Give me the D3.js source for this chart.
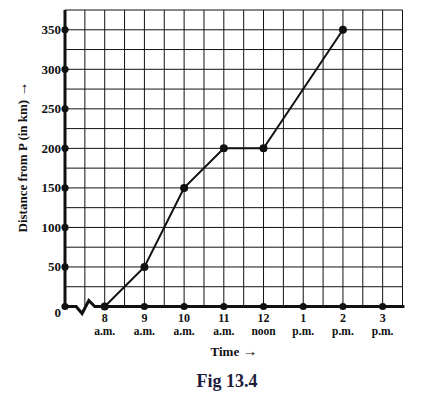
<!DOCTYPE html>
<html lang="en">
<head>
<meta charset="utf-8">
<title>Fig 13.4</title>
<script src="https://cdn.jsdelivr.net/npm/d3@7"></script>
<style>
body { margin: 0; background: #fff; }
svg text { font-family: "Liberation Serif", "Times New Roman", serif; font-weight: bold; fill: #111; }
.grid line { stroke: #111; stroke-width: 1; }
</style>
</head>
<body>
<div id="chart"></div>
<script>
// data
var hours = [8, 9, 10, 11, 12, 13, 14, 15];
var hourLabels = ["8", "9", "10", "11", "12", "1", "2", "3"];
var periodLabels = ["a.m.", "a.m.", "a.m.", "a.m.", "noon", "p.m.", "p.m.", "p.m."];
var tripTimes = [8, 9, 10, 11, 12, 14];
var tripDistances = [0, 50, 150, 200, 200, 350];
var distanceTicks = [0, 50, 100, 150, 200, 250, 300, 350];

var svg = d3.select("#chart").append("svg").attr("width", 431).attr("height", 398);

var x = d3.scaleLinear().domain([7, 15.5]).range([65, 402.5]);
var y = d3.scaleLinear().domain([0, 375]).range([306.5, 10]);

// grid
var grid = svg.append("g").attr("class", "grid");
grid.selectAll(".v").data(d3.range(7.5, 15.51, 0.5)).enter().append("line")
    .attr("x1", function(d) { return x(d); }).attr("x2", function(d) { return x(d); })
    .attr("y1", y(0)).attr("y2", y(375));
grid.selectAll(".h").data(d3.range(25, 376, 25)).enter().append("line")
    .attr("x1", x(7)).attr("x2", x(15.5))
    .attr("y1", function(d) { return y(d); }).attr("y2", function(d) { return y(d); });

// axes (thick)
svg.append("line").attr("x1", x(7)).attr("x2", x(7)).attr("y1", y(0) + 1).attr("y2", y(375))
    .attr("stroke", "#111").attr("stroke-width", 3);
// bottom axis with the break between origin and 8 a.m.
var brk = [[7, 0], [7.28, 0], [7.43, -7], [7.6, 6], [7.75, 0], [15.55, 0]];
svg.append("path")
    .attr("d", d3.line().x(function(d) { return x(d[0]); }).y(function(d) { return y(0) - d[1]; })(brk))
    .attr("fill", "none").attr("stroke", "#111").attr("stroke-width", 3);

// axis dots
svg.selectAll(".ydot").data(distanceTicks).enter().append("circle")
    .attr("cx", x(7)).attr("cy", function(d) { return y(d); }).attr("r", 3.6).attr("fill", "#111");
svg.selectAll(".xdot").data(hours).enter().append("circle")
    .attr("cx", function(d) { return x(d); }).attr("cy", y(0)).attr("r", 3.6).attr("fill", "#111");

// tick labels
svg.selectAll(".ylab").data(distanceTicks).enter().append("text")
    .attr("x", x(7) - 4).attr("y", function(d) { return d === 0 ? y(0) + 10 : y(d) + 4.5; })
    .attr("text-anchor", "end").attr("font-size", 13)
    .text(function(d) { return d; });
svg.selectAll(".xlab").data(hours).enter().append("text")
    .attr("x", function(d) { return x(d); }).attr("y", 322)
    .attr("text-anchor", "middle").attr("font-size", 12)
    .text(function(d, i) { return hourLabels[i]; });
svg.selectAll(".plab").data(hours).enter().append("text")
    .attr("x", function(d) { return x(d); }).attr("y", 335)
    .attr("text-anchor", "middle").attr("font-size", 11.5)
    .text(function(d, i) { return periodLabels[i]; });

// the journey
var trip = tripTimes.map(function(t, i) { return [t, tripDistances[i]]; });
svg.append("path")
    .attr("d", d3.line().x(function(d) { return x(d[0]); }).y(function(d) { return y(d[1]); })(trip))
    .attr("fill", "none").attr("stroke", "#111").attr("stroke-width", 2);
svg.selectAll(".tdot").data(trip).enter().append("circle")
    .attr("cx", function(d) { return x(d[0]); }).attr("cy", function(d) { return y(d[1]); })
    .attr("r", 4).attr("fill", "#111");

// titles
var tt = svg.append("text").attr("x", 234).attr("y", 356).attr("text-anchor", "middle")
    .attr("font-size", 13);
tt.append("tspan").text("Time ");
tt.append("tspan").attr("font-size", 15).attr("font-weight", "normal").text("\u2192");
var yt = svg.append("text").attr("transform", "translate(27,157) rotate(-90)").attr("text-anchor", "middle")
    .attr("font-size", 13);
yt.append("tspan").text("Distance from P (in km) ");
yt.append("tspan").attr("font-size", 15).attr("font-weight", "normal").text("\u2192");
svg.append("text").attr("x", 227).attr("y", 387).attr("text-anchor", "middle")
    .attr("font-size", 18).style("fill", "#1d1d3d").text("Fig 13.4");
</script>
</body>
</html>
